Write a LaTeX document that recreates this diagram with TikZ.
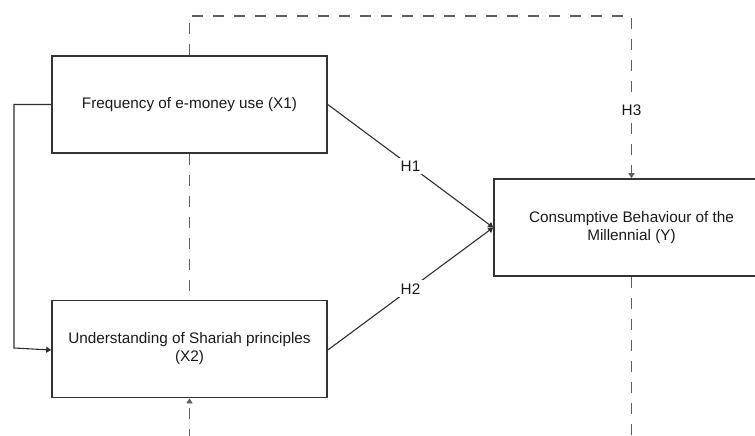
\documentclass[tikz,border=0pt]{standalone}
\usepackage{fontspec}
\setmainfont{Liberation Sans}
\usetikzlibrary{arrows.meta}
\definecolor{boxline}{HTML}{333333}
\definecolor{conn}{HTML}{2E2E2E}
\definecolor{dashc}{HTML}{5E5E5E}
\tikzset{
  varbox/.style={draw=boxline, line width=1.6pt, minimum width=275pt, minimum height=97pt, inner sep=0pt, align=center, font=\fontsize{15.3}{18}\selectfont, text=black!90},
  solidconn/.style={draw=conn, line width=1.1pt},
  dashconn/.style={draw=dashc, line width=1.5pt, dash pattern=on 11pt off 10pt},
  tip/.style={-{Triangle[length=5pt,width=6pt]}},
  hlabel/.style={fill=white, inner sep=3pt, font=\fontsize{15.3}{18}\selectfont, text=black!90}
}
\begin{document}
\begin{tikzpicture}[x=1pt,y=-1pt]
\useasboundingbox (0,0) rectangle (755,436);
\clip (0,0) rectangle (755,436);
\node[varbox] (x1) at (189.5,104.5) {Frequency of e-money use (X1)};
\node[varbox] (x2) at (189.5,349) {Understanding of Shariah principles\\(X2)};
\node[varbox] (y) at (631.5,227.5) {Consumptive Behaviour of the\\Millennial (Y)};
\coordinate (topl) at (189.5,16);
\coordinate (topr) at (631.5,16);
\coordinate (yend) at (631.5,440);
\coordinate (x2start) at (189.5,440);
\coordinate (elbowa) at (14,104.5);
\coordinate (elbowb) at (14,348);
% H1, H2
\draw[solidconn, tip] (x1.east) -- node[hlabel] (h1) {H1} (y.west);
\draw[solidconn, tip] ([yshift=-1pt]x2.east) -- node[hlabel] (h2) {H2} (y.west);
% X1 -> X2 elbow
\draw[solidconn, tip] (x1.west) -- (elbowa) -- (elbowb) -- ([yshift=-1pt]x2.west);
% dashed H3
\draw[dashconn, tip] (x1.north) -- (topl) -- (topr) -- node[hlabel, pos=0.58] (h3) {H3} (y.north);
\draw[dashconn] (x1.south) -- (x2.north);
\draw[dashconn] (y.south) -- (yend);
\draw[dashconn, tip] (x2start) -- (x2.south);
\end{tikzpicture}
\end{document}
